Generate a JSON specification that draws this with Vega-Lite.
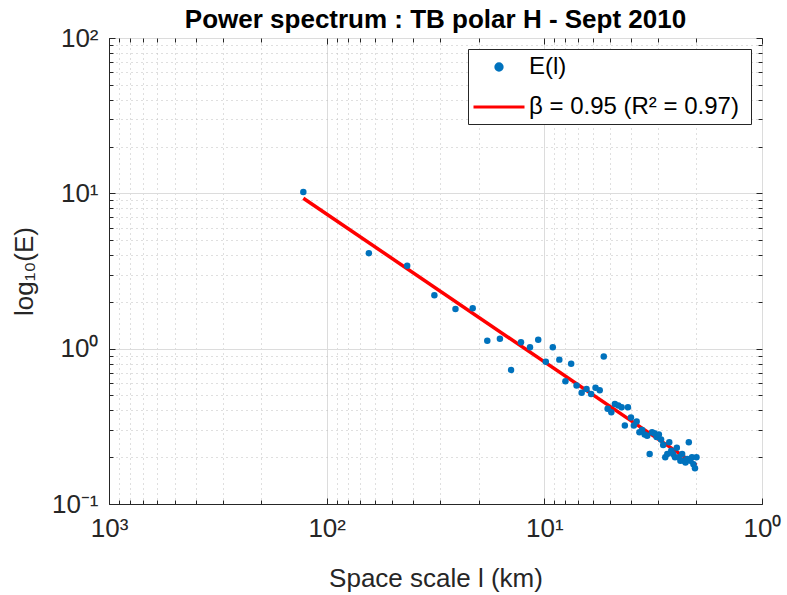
{
  "$schema": "https://vega.github.io/schema/vega-lite/v6.json",
  "width": 653,
  "height": 466,
  "autosize": {"type": "none"},
  "padding": {"left": 109, "top": 38, "right": 25, "bottom": 91},
  "background": "white",
  "title": {
    "text": "Power spectrum : TB polar H - Sept 2010",
    "font": "Liberation Sans",
    "fontSize": 26,
    "fontWeight": "bold",
    "color": "black",
    "anchor": "middle",
    "offset": -8
  },
  "datasets": {
    "spectrum": [
      {"l": 128, "E": 10.2, "series": "E(l)"},
      {"l": 64, "E": 4.12, "series": "E(l)"},
      {"l": 42.667, "E": 3.42, "series": "E(l)"},
      {"l": 32, "E": 2.21, "series": "E(l)"},
      {"l": 25.6, "E": 1.80, "series": "E(l)"},
      {"l": 21.333, "E": 1.82, "series": "E(l)"},
      {"l": 18.286, "E": 1.125, "series": "E(l)"},
      {"l": 16, "E": 1.16, "series": "E(l)"},
      {"l": 14.222, "E": 0.73, "series": "E(l)"},
      {"l": 12.8, "E": 1.10, "series": "E(l)"},
      {"l": 11.636, "E": 1.02, "series": "E(l)"},
      {"l": 10.667, "E": 1.14, "series": "E(l)"},
      {"l": 9.846, "E": 0.825, "series": "E(l)"},
      {"l": 9.143, "E": 1.02, "series": "E(l)"},
      {"l": 8.533, "E": 0.85, "series": "E(l)"},
      {"l": 8, "E": 0.617, "series": "E(l)"},
      {"l": 7.529, "E": 0.80, "series": "E(l)"},
      {"l": 7.111, "E": 0.58, "series": "E(l)"},
      {"l": 6.737, "E": 0.52, "series": "E(l)"},
      {"l": 6.4, "E": 0.55, "series": "E(l)"},
      {"l": 6.095, "E": 0.51, "series": "E(l)"},
      {"l": 5.818, "E": 0.56, "series": "E(l)"},
      {"l": 5.565, "E": 0.54, "series": "E(l)"},
      {"l": 5.333, "E": 0.89, "series": "E(l)"},
      {"l": 5.12, "E": 0.41, "series": "E(l)"},
      {"l": 4.923, "E": 0.39, "series": "E(l)"},
      {"l": 4.741, "E": 0.44, "series": "E(l)"},
      {"l": 4.571, "E": 0.43, "series": "E(l)"},
      {"l": 4.414, "E": 0.42, "series": "E(l)"},
      {"l": 4.267, "E": 0.32, "series": "E(l)"},
      {"l": 4.129, "E": 0.42, "series": "E(l)"},
      {"l": 4, "E": 0.36, "series": "E(l)"},
      {"l": 3.879, "E": 0.32, "series": "E(l)"},
      {"l": 3.765, "E": 0.34, "series": "E(l)"},
      {"l": 3.657, "E": 0.29, "series": "E(l)"},
      {"l": 3.556, "E": 0.30, "series": "E(l)"},
      {"l": 3.459, "E": 0.28, "series": "E(l)"},
      {"l": 3.368, "E": 0.275, "series": "E(l)"},
      {"l": 3.282, "E": 0.21, "series": "E(l)"},
      {"l": 3.2, "E": 0.29, "series": "E(l)"},
      {"l": 3.122, "E": 0.285, "series": "E(l)"},
      {"l": 3.048, "E": 0.27, "series": "E(l)"},
      {"l": 2.977, "E": 0.28, "series": "E(l)"},
      {"l": 2.909, "E": 0.26, "series": "E(l)"},
      {"l": 2.844, "E": 0.24, "series": "E(l)"},
      {"l": 2.783, "E": 0.20, "series": "E(l)"},
      {"l": 2.723, "E": 0.21, "series": "E(l)"},
      {"l": 2.667, "E": 0.25, "series": "E(l)"},
      {"l": 2.612, "E": 0.22, "series": "E(l)"},
      {"l": 2.56, "E": 0.21, "series": "E(l)"},
      {"l": 2.51, "E": 0.20, "series": "E(l)"},
      {"l": 2.462, "E": 0.23, "series": "E(l)"},
      {"l": 2.415, "E": 0.20, "series": "E(l)"},
      {"l": 2.37, "E": 0.19, "series": "E(l)"},
      {"l": 2.327, "E": 0.21, "series": "E(l)"},
      {"l": 2.286, "E": 0.19, "series": "E(l)"},
      {"l": 2.246, "E": 0.185, "series": "E(l)"},
      {"l": 2.207, "E": 0.195, "series": "E(l)"},
      {"l": 2.169, "E": 0.25, "series": "E(l)"},
      {"l": 2.133, "E": 0.19, "series": "E(l)"},
      {"l": 2.098, "E": 0.20, "series": "E(l)"},
      {"l": 2.065, "E": 0.18, "series": "E(l)"},
      {"l": 2.032, "E": 0.17, "series": "E(l)"},
      {"l": 2, "E": 0.20, "series": "E(l)"}
    ],
    "fit": [
      {"l": 128, "E": 9.3, "series": "β = 0.95  (R² = 0.97)"},
      {"l": 2, "E": 0.178, "series": "β = 0.95  (R² = 0.97)"}
    ]
  },
  "config": {
    "view": {"stroke": "#262626", "strokeWidth": 1},
    "axis": {
      "labelFont": "Liberation Sans",
      "titleFont": "Liberation Sans",
      "labelColor": "#262626",
      "titleColor": "#262626",
      "labelFontSize": 26,
      "titleFontSize": 26,
      "titleFontWeight": "normal",
      "domainColor": "#262626",
      "tickColor": "#262626",
      "labelOverlap": false,
      "labelFlush": false,
      "labelBound": false
    },
    "legend": {
      "labelFont": "Liberation Sans",
      "labelFontSize": 24,
      "labelColor": "black",
      "labelLimit": 400
    }
  },
  "resolve": {"axis": {"x": "independent", "y": "independent"}},
  "layer": [
    {
      "data": {"name": "fit"},
      "mark": {"type": "line", "strokeWidth": 3.5},
      "encoding": {
        "x": {
          "field": "l",
          "type": "quantitative",
          "scale": {"type": "log", "domain": [1, 1000], "reverse": true},
          "axis": {
            "orient": "top",
            "title": null,
            "labels": false,
            "domain": false,
            "grid": false,
            "values": [1,2,3,4,5,6,7,8,9,10,20,30,40,50,60,70,80,90,100,200,300,400,500,600,700,800,900,1000],
            "ticks": true,
            "tickSize": {"condition": {"test": "datum.value == 1 || datum.value == 10 || datum.value == 100 || datum.value == 1000", "value": -6}, "value": -4}
          }
        },
        "y": {
          "field": "E",
          "type": "quantitative",
          "scale": {"type": "log", "domain": [0.1, 100]},
          "axis": {
            "orient": "right",
            "title": null,
            "labels": false,
            "domain": false,
            "grid": false,
            "values": [0.1,0.2,0.3,0.4,0.5,0.6,0.7,0.8,0.9,1,2,3,4,5,6,7,8,9,10,20,30,40,50,60,70,80,90,100],
            "ticks": true,
            "tickSize": {"condition": {"test": "datum.value == 0.1 || datum.value == 1 || datum.value == 10 || datum.value == 100", "value": -6}, "value": -4}
          }
        },
        "color": {
          "field": "series",
          "type": "nominal",
          "scale": {"domain": ["E(l)", "β = 0.95  (R² = 0.97)"], "range": ["#0072BD", "#FF0000"]},
          "legend": {
            "title": null,
            "orient": "top-right",
            "offset": 11,
            "padding": 5,
            "strokeColor": "#262626",
            "fillColor": "white",
            "symbolSize": 400,
            "rowPadding": 15,
            "encode": {
              "symbols": {
                "update": {
                  "x": {"value": 26},
                  "y": {"value": 13},
                  "shape": {"signal": "datum.index === 0 ? 'circle' : 'stroke'"},
                  "size": {"signal": "datum.index === 0 ? 40 : 2601"},
                  "fill": {"signal": "datum.index === 0 ? '#0072BD' : 'transparent'"},
                  "stroke": {"signal": "datum.index === 0 ? 'transparent' : '#FF0000'"},
                  "strokeWidth": {"value": 3},
                  "opacity": {"value": 1}
                }
              },
              "labels": {
                "update": {
                  "x": {"value": 56},
                  "y": {"value": 13},
                  "align": {"value": "left"},
                  "baseline": {"value": "middle"}
                }
              }
            }
          }
        }
      }
    },
    {
      "data": {"name": "spectrum"},
      "mark": {"type": "point", "filled": true, "shape": "circle", "size": 42, "opacity": 1},
      "encoding": {
        "x": {
          "field": "l",
          "type": "quantitative",
          "scale": {"type": "log", "domain": [1, 1000], "reverse": true},
          "axis": {
            "orient": "bottom",
            "title": "Space scale l (km)",
            "titlePadding": 22,
            "labelPadding": 17,
            "values": [1,2,3,4,5,6,7,8,9,10,20,30,40,50,60,70,80,90,100,200,300,400,500,600,700,800,900,1000],
            "labelExpr": "datum.value == 1000 ? '10³' : datum.value == 100 ? '10²' : datum.value == 10 ? '10¹' : datum.value == 1 ? '10⁰' : ''",
            "ticks": true,
            "tickSize": {"condition": {"test": "datum.value == 1 || datum.value == 10 || datum.value == 100 || datum.value == 1000", "value": -6}, "value": -4},
            "grid": true,
            "gridColor": {"condition": {"test": "datum.value == 1 || datum.value == 10 || datum.value == 100 || datum.value == 1000", "value": "#DCDCDC"}, "value": "#BEBEBE"},
            "gridDash": {"condition": {"test": "datum.value == 1 || datum.value == 10 || datum.value == 100 || datum.value == 1000", "value": []}, "value": [1, 4]},
            "gridWidth": 1
          }
        },
        "y": {
          "field": "E",
          "type": "quantitative",
          "scale": {"type": "log", "domain": [0.1, 100]},
          "axis": {
            "orient": "left",
            "title": "log₁₀(E)",
            "titlePadding": 14,
            "labelPadding": 17,
            "values": [0.1,0.2,0.3,0.4,0.5,0.6,0.7,0.8,0.9,1,2,3,4,5,6,7,8,9,10,20,30,40,50,60,70,80,90,100],
            "labelExpr": "datum.value == 100 ? '10²' : datum.value == 10 ? '10¹' : datum.value == 1 ? '10⁰' : datum.value == 0.1 ? '10⁻¹' : ''",
            "ticks": true,
            "tickSize": {"condition": {"test": "datum.value == 0.1 || datum.value == 1 || datum.value == 10 || datum.value == 100", "value": -6}, "value": -4},
            "grid": true,
            "gridColor": {"condition": {"test": "datum.value == 0.1 || datum.value == 1 || datum.value == 10 || datum.value == 100", "value": "#DCDCDC"}, "value": "#BEBEBE"},
            "gridDash": {"condition": {"test": "datum.value == 0.1 || datum.value == 1 || datum.value == 10 || datum.value == 100", "value": []}, "value": [1, 4]},
            "gridWidth": 1
          }
        },
        "color": {
          "field": "series",
          "type": "nominal"
        }
      }
    }
  ]
}
